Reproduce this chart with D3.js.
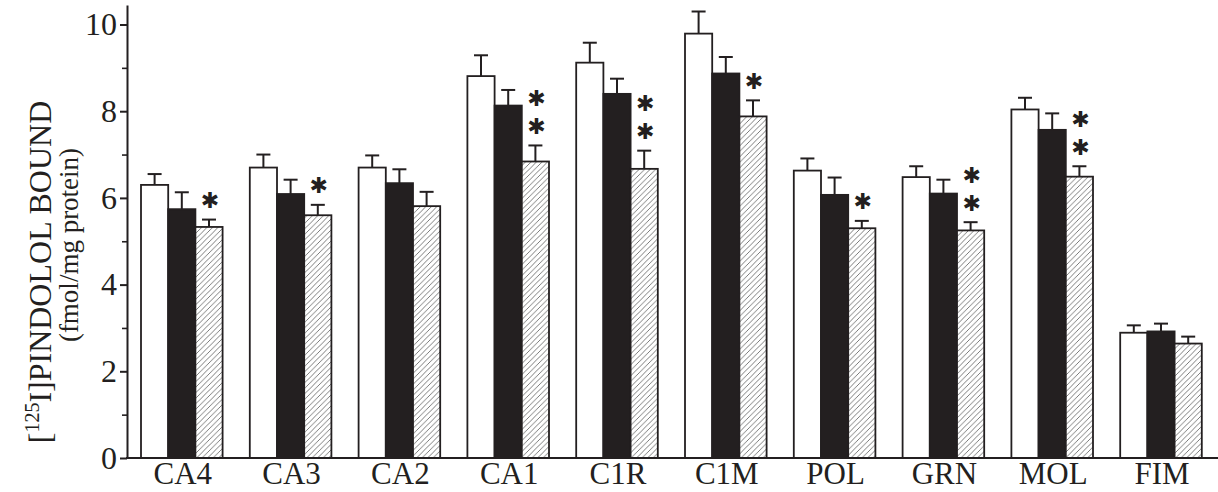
<!DOCTYPE html>
<html><head><meta charset="utf-8">
<script src="https://cdn.jsdelivr.net/npm/d3@7"></script>
<style>html,body{margin:0;padding:0;background:#fff;}svg{display:block;}</style>
</head><body>
<svg id="c" width="1218" height="492"></svg>
<script>
const categories = ["CA4","CA3","CA2","CA1","C1R","C1M","POL","GRN","MOL","FIM"];
const whiteVals  = [6.30,6.70,6.70,8.81,9.12,9.79,6.63,6.48,8.04,2.89];
const whiteSEM   = [0.25,0.30,0.28,0.48,0.46,0.51,0.28,0.25,0.27,0.17];
const blackVals  = [5.74,6.09,6.34,8.13,8.40,8.87,6.07,6.10,7.57,2.92];
const blackSEM   = [0.39,0.33,0.32,0.36,0.35,0.38,0.40,0.32,0.38,0.18];
const hatchVals  = [5.33,5.60,5.81,6.84,6.67,7.88,5.30,5.25,6.49,2.64];
const hatchSEM   = [0.17,0.24,0.33,0.37,0.42,0.37,0.17,0.19,0.24,0.16];
const stars      = [1,1,0,2,2,1,1,2,2,0];
const majorTicks = [0,2,4,6,8,10];
const minorTicks = [1,3,5,7,9];

const svg = d3.select("#c");
const ink = "#231f20";
const serif = "'Liberation Serif','Times New Roman',serif";

const defs = svg.append("defs");
const pat = defs.append("pattern").attr("id","hatch").attr("patternUnits","userSpaceOnUse")
  .attr("width",5.5).attr("height",5.5);
pat.append("rect").attr("width",5.5).attr("height",5.5).attr("fill","#fff");
pat.append("path").attr("d","M0,5.5L5.5,0M-1.5,1.5L1.5,-1.5M4,7L7,4")
  .attr("stroke","#6d6d6d").attr("stroke-width",0.9);

const y = d3.scaleLinear().domain([0,10.45]).range([458,5]);
const x = d3.scaleBand().domain(categories).range([127.4,1215.4]).paddingInner(0.25).paddingOuter(0.125);
const series = ["w","b","h"];
const xs = d3.scaleBand().domain(series).range([0,x.bandwidth()]);

const data = [];
categories.forEach((c,i)=>{
  data.push({c, s:"w", v:whiteVals[i], e:whiteSEM[i]});
  data.push({c, s:"b", v:blackVals[i], e:blackSEM[i]});
  data.push({c, s:"h", v:hatchVals[i], e:hatchSEM[i]});
});
const fillOf = {w:"#fff", b:ink, h:"url(#hatch)"};

// error bars
const eb = svg.append("g").attr("stroke",ink).attr("stroke-width",2);
data.forEach(d=>{
  const cx = x(d.c)+xs(d.s)+xs.bandwidth()/2;
  eb.append("line").attr("x1",cx).attr("x2",cx).attr("y1",y(d.v)).attr("y2",y(d.v+d.e));
  eb.append("line").attr("x1",cx-7).attr("x2",cx+7).attr("y1",y(d.v+d.e)).attr("y2",y(d.v+d.e));
});

// bars
svg.append("g").selectAll("rect").data(data).join("rect")
  .attr("x",d=>x(d.c)+xs(d.s))
  .attr("y",d=>y(d.v))
  .attr("width",xs.bandwidth())
  .attr("height",d=>y(0)-y(d.v))
  .attr("fill",d=>fillOf[d.s])
  .attr("stroke",ink).attr("stroke-width",1.8);

// asterisks
const st = svg.append("g").attr("font-family","'DejaVu Sans',sans-serif")
  .attr("font-size",22).attr("fill",ink).attr("text-anchor","middle").attr("dominant-baseline","central");
categories.forEach((c,i)=>{
  const cx = x(c)+xs("h")+xs.bandwidth()/2;
  const top = y(hatchVals[i]+hatchSEM[i]);
  for(let k=0;k<stars[i];k++){
    st.append("text").attr("x",cx+1).attr("y",top-19-k*28).text("\u2731");
  }
});

// y axis
const yAxis = d3.axisLeft(y).tickValues(majorTicks).tickSize(7).tickPadding(3).tickSizeOuter(0).tickFormat(d3.format("d"));
const ga = svg.append("g").attr("transform","translate(127,0)").call(yAxis);
ga.select(".domain").attr("stroke",ink).attr("stroke-width",2);
ga.selectAll(".tick line").attr("stroke",ink).attr("stroke-width",2);
ga.selectAll(".tick text").attr("font-family",serif).attr("font-size",32).attr("fill",ink);
const gm = svg.append("g").attr("transform","translate(127,0)")
  .call(d3.axisLeft(y).tickValues(minorTicks).tickSize(5).tickFormat(""));
gm.select(".domain").remove();
gm.selectAll(".tick line").attr("stroke",ink).attr("stroke-width",1.6);

// x axis line
svg.append("line").attr("x1",126).attr("x2",1218).attr("y1",y(0)).attr("y2",y(0))
  .attr("stroke",ink).attr("stroke-width",2);
svg.append("g").selectAll("text").data(categories).join("text")
  .attr("x",d=>x(d)+x.bandwidth()/2+1).attr("y",484)
  .attr("text-anchor","middle").attr("font-family",serif).attr("font-size",31).attr("fill",ink)
  .text(d=>d);

// y label
const yl = svg.append("text").attr("transform","translate(51,272) rotate(-90)")
  .attr("text-anchor","middle").attr("font-family",serif).attr("font-size",32).attr("fill",ink);
yl.append("tspan").text("[");
yl.append("tspan").attr("font-size",20).attr("dy",-12).text("125");
yl.append("tspan").attr("dy",12).text("I]PINDOLOL BOUND");
svg.append("text").attr("transform","translate(78,245) rotate(-90)")
  .attr("text-anchor","middle").attr("font-family",serif).attr("font-size",27).attr("fill",ink)
  .text("(fmol/mg protein)");
</script>
</body></html>
